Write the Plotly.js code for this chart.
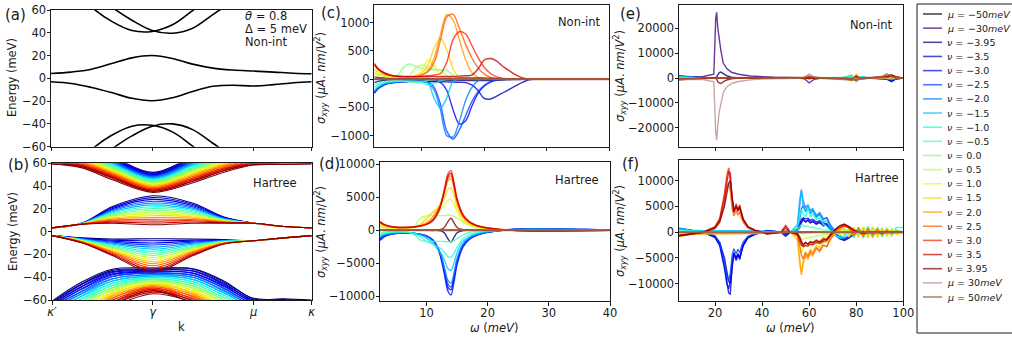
<!DOCTYPE html>
<html><head><meta charset="utf-8">
<script src="https://cdn.plot.ly/plotly-3.0.1.min.js"></script>
<style>html,body{margin:0;padding:0;background:#fff;overflow:hidden}#chart{width:1012px;height:339px}</style>
</head><body><div id="chart"></div>
<script>
// ---------------- DATA ----------------
const LEGEND_LABELS = ['<i>μ</i> = −50<i>meV</i>','<i>μ</i> = −30<i>meV</i>','<i>ν</i> = −3.95','<i>ν</i> = −3.5','<i>ν</i> = −3.0','<i>ν</i> = −2.5','<i>ν</i> = −2.0','<i>ν</i> = −1.5','<i>ν</i> = −1.0','<i>ν</i> = −0.5','<i>ν</i> = 0.0','<i>ν</i> = 0.5','<i>ν</i> = 1.0','<i>ν</i> = 1.5','<i>ν</i> = 2.0','<i>ν</i> = 2.5','<i>ν</i> = 3.0','<i>ν</i> = 3.5','<i>ν</i> = 3.95','<i>μ</i> = 30<i>meV</i>','<i>μ</i> = 50<i>meV</i>'];

const K_TICKS = [0, 1, 2, 2.577];
const K_TICK_LABELS = ['<i>κ′</i>', '<i>γ</i>', '<i>μ</i>', '<i>κ</i>'];

// (a) non-interacting bands
const K_A = [0,0.2,0.4,0.6,0.8,1.0,1.2,1.4,1.6,1.8,2.0,2.2,2.4,2.577];
const A_C1 = [4.2,5.5,8,13,18,20,17.5,12.5,9,7.3,6.4,5.5,4.5,4];
const A_V1 = [-3,-4.5,-8,-12.5,-17.5,-19.6,-17,-11.5,-7,-6,-6.7,-5.5,-3.8,-3];
const A_C2A = [95,80,62.5,50,42,41.2,47,59.5,72,84,95,100,102,104];
const A_C2B = [110,95,75,62.5,51,42,39.6,44,56,68,80,88,92,94];
const A_V2A = [-95,-80,-62.5,-50,-42,-41.2,-47,-59.5,-72,-84,-95,-100,-102,-104];
const A_V2B = [-110,-95,-75,-62,-50.5,-42,-40,-45,-57,-69,-80,-88,-92,-94];

// (b) Hartree bands, one row per filling (nu = -3.95 ... 3.95)
const K_B = [0,0.3,0.6,1.0,1.4,1.7,2.0,2.3,2.577];
const B_C1 = [
[3.3,7.5,22,31.5,25,13,7.4,4.5,3.3],[3.3,7.4,21.1,29.9,23.9,12.7,7.4,4.5,3.3],[3.3,7.4,20.2,28.3,22.8,12.3,7.4,4.5,3.3],
[3.3,7.3,19.3,26.7,21.7,12,7.4,4.5,3.3],[3.3,7.3,18.4,25.1,20.6,11.6,7.4,4.5,3.3],[3.3,7.2,17.4,23.5,19.5,11.3,7.4,4.5,3.3],
[3.3,7.1,16.5,21.9,18.4,10.9,7.4,4.5,3.3],[3.3,7.1,15.6,20.3,17.3,10.6,7.4,4.5,3.3],[3.3,7,14.7,18.8,16.2,10.2,7.4,4.5,3.3],
[3.3,6.9,13.8,17.2,15.1,9.9,7.4,4.5,3.3],[3.3,6.9,12.9,15.6,14,9.5,7.4,4.5,3.3],[3.3,6.8,12,14,12.9,9.2,7.4,4.5,3.3],
[3.3,6.8,11.1,12.4,11.8,8.8,7.4,4.5,3.3],[3.3,6.7,10.1,10.8,10.7,8.5,7.4,4.5,3.3],[3.3,6.6,9.2,9.2,9.6,8.1,7.4,4.5,3.3],
[3.3,6.6,8.3,7.6,8.5,7.8,7.4,4.5,3.3],[3.3,6.5,7.4,6,7.4,7.4,7.4,4.5,3.3]];
const B_V1 = [
[-3.5,-5.5,-6.5,-6.2,-6.5,-7,-8,-5.5,-3.5],[-3.5,-5.8,-7.4,-8,-7.4,-7.3,-8,-5.5,-3.5],[-3.5,-6.1,-8.3,-9.9,-8.3,-7.5,-8,-5.5,-3.5],
[-3.5,-6.3,-9.2,-11.7,-9.2,-7.8,-8,-5.5,-3.5],[-3.5,-6.6,-10.1,-13.5,-10.1,-8,-8,-5.5,-3.5],[-3.5,-6.9,-11,-15.3,-11,-8.3,-8,-5.5,-3.5],
[-3.5,-7.2,-11.9,-17.2,-11.9,-8.5,-8,-5.5,-3.5],[-3.5,-7.5,-12.8,-19,-12.8,-8.8,-8,-5.5,-3.5],[-3.5,-7.8,-13.8,-20.8,-13.8,-9,-8,-5.5,-3.5],
[-3.5,-8,-14.7,-22.6,-14.7,-9.3,-8,-5.5,-3.5],[-3.5,-8.3,-15.6,-24.5,-15.6,-9.5,-8,-5.5,-3.5],[-3.5,-8.6,-16.5,-26.3,-16.5,-9.8,-8,-5.5,-3.5],
[-3.5,-8.9,-17.4,-28.1,-17.4,-10,-8,-5.5,-3.5],[-3.5,-9.2,-18.3,-29.9,-18.3,-10.3,-8,-5.5,-3.5],[-3.5,-9.4,-19.2,-31.8,-19.2,-10.5,-8,-5.5,-3.5],
[-3.5,-9.7,-20.1,-33.6,-20.1,-10.8,-8,-5.5,-3.5],[-3.5,-10,-21,-35.4,-21,-11,-8,-5.5,-3.5]];
const B_C2A = [
[80,73,64.5,51.2,64.5,72,79,80,81],[78.7,71.9,63.3,50.2,63.2,70.8,77.7,78.7,79.7],[77.4,70.9,62.1,49.1,61.8,69.5,76.4,77.4,78.3],
[76.2,69.8,60.9,48.1,60.5,68.3,75.2,76.1,77],[74.9,68.8,59.8,47,59.1,67,73.9,74.8,75.6],[73.6,67.7,58.6,46,57.8,65.8,72.6,73.4,74.3],
[72.3,66.6,57.4,44.9,56.4,64.5,71.3,72.1,72.9],[71,65.6,56.2,43.9,55.1,63.3,70,70.8,71.6],[69.8,64.5,55,42.9,53.8,62,68.8,69.5,70.3],
[68.5,63.4,53.8,41.8,52.4,60.8,67.5,68.2,68.9],[67.2,62.4,52.6,40.8,51.1,59.5,66.2,66.9,67.6],[65.9,61.3,51.4,39.7,49.7,58.3,64.9,65.6,66.2],
[64.6,60.3,50.3,38.7,48.4,57,63.6,64.3,64.9],[63.3,59.2,49.1,37.6,47,55.8,62.3,62.9,63.5],[62.1,58.1,47.9,36.6,45.7,54.5,61.1,61.6,62.2],
[60.8,57.1,46.7,35.5,44.3,53.3,59.8,60.3,60.8],[59.5,56,45.5,34.5,43,52,58.5,59,59.5]];
const B_C2B = [
[81,74,65.5,52,65.5,73,80,81,82],[79.7,72.9,64.4,51,64.2,71.8,78.7,79.6,80.6],[78.3,71.9,63.3,49.9,62.9,70.6,77.4,78.3,79.2],
[77,70.8,62.1,48.9,61.6,69.3,76,76.9,77.8],[75.6,69.8,61,47.9,60.3,68.1,74.7,75.6,76.4],[74.3,68.7,59.9,46.8,58.9,66.9,73.4,74.2,75],
[72.9,67.6,58.8,45.8,57.6,65.7,72.1,72.8,73.6],[71.6,66.6,57.6,44.8,56.3,64.5,70.7,71.5,72.2],[70.3,65.5,56.5,43.8,55,63.3,69.4,70.1,70.9],
[68.9,64.4,55.4,42.7,53.7,62,68.1,68.7,69.5],[67.6,63.4,54.3,41.7,52.4,60.8,66.8,67.4,68.1],[66.2,62.3,53.1,40.7,51.1,59.6,65.4,66,66.7],
[64.9,61.3,52,39.6,49.8,58.4,64.1,64.7,65.3],[63.5,60.2,50.9,38.6,48.4,57.2,62.8,63.3,63.9],[62.2,59.1,49.8,37.6,47.1,55.9,61.5,61.9,62.5],
[60.8,58.1,48.6,36.5,45.8,54.7,60.1,60.6,61.1],[59.5,57,47.5,35.5,44.5,53.5,58.8,59.2,59.7]];
const B_V2A = [
[-61,-44,-33,-32,-33,-44,-58.5,-59,-60],[-62.5,-46.1,-35.1,-33.4,-34.8,-45.9,-60,-60.6,-61.6],[-64,-48.3,-37.1,-34.8,-36.6,-47.9,-61.4,-62.1,-63.1],
[-65.5,-50.4,-39.2,-36.2,-38.4,-49.8,-62.9,-63.7,-64.7],[-67,-52.5,-41.3,-37.6,-40.3,-51.8,-64.4,-65.3,-66.3],[-68.5,-54.6,-43.3,-39,-42.1,-53.7,-65.8,-66.8,-67.8],
[-70,-56.8,-45.4,-40.4,-43.9,-55.6,-67.3,-68.4,-69.4],[-71.5,-58.9,-47.4,-41.8,-45.7,-57.6,-68.8,-69.9,-70.9],[-73,-61,-49.5,-43.3,-47.5,-59.5,-70.3,-71.5,-72.5],
[-74.5,-63.1,-51.6,-44.7,-49.3,-61.4,-71.7,-73.1,-74.1],[-76,-65.3,-53.6,-46.1,-51.1,-63.4,-73.2,-74.6,-75.6],[-77.5,-67.4,-55.7,-47.5,-52.9,-65.3,-74.7,-76.2,-77.2],
[-79,-69.5,-57.8,-48.9,-54.8,-67.3,-76.1,-77.8,-78.8],[-80.5,-71.6,-59.8,-50.3,-56.6,-69.2,-77.6,-79.3,-80.3],[-82,-73.8,-61.9,-51.7,-58.4,-71.1,-79.1,-80.9,-81.9],
[-83.5,-75.9,-63.9,-53.1,-60.2,-73.1,-80.5,-82.4,-83.4],[-85,-78,-66,-54.5,-62,-75,-82,-84,-85]];
const B_V2B = [
[-62,-45.5,-34,-33,-32.5,-43,-59,-59.5,-60.5],[-63.4,-47.7,-35.9,-34.2,-34.4,-45.1,-60.4,-61,-62],[-64.9,-49.8,-37.8,-35.4,-36.3,-47.1,-61.9,-62.6,-63.6],
[-66.3,-52,-39.6,-36.6,-38.2,-49.2,-63.3,-64.1,-65.1],[-67.8,-54.1,-41.5,-37.8,-40.1,-51.3,-64.8,-65.6,-66.6],[-69.2,-56.3,-43.4,-38.9,-42,-53.3,-66.2,-67.2,-68.2],
[-70.6,-58.4,-45.3,-40.1,-43.9,-55.4,-67.6,-68.7,-69.7],[-72.1,-60.6,-47.1,-41.3,-45.8,-57.4,-69.1,-70.2,-71.2],[-73.5,-62.8,-49,-42.5,-47.8,-59.5,-70.5,-71.8,-72.8],
[-74.9,-64.9,-50.9,-43.7,-49.7,-61.6,-71.9,-73.3,-74.3],[-76.4,-67.1,-52.8,-44.9,-51.6,-63.6,-73.4,-74.8,-75.8],[-77.8,-69.2,-54.6,-46.1,-53.5,-65.7,-74.8,-76.3,-77.3],
[-79.3,-71.4,-56.5,-47.3,-55.4,-67.8,-76.3,-77.9,-78.9],[-80.7,-73.5,-58.4,-48.4,-57.3,-69.8,-77.7,-79.4,-80.4],[-82.1,-75.7,-60.3,-49.6,-59.2,-71.9,-79.1,-80.9,-81.9],
[-83.6,-77.8,-62.1,-50.8,-61.1,-73.9,-80.6,-82.5,-83.5],[-85,-80,-64,-52,-63,-76,-82,-84,-85]];

// (c) Non-int sigma_xyy vs omega
const W_C = [2.4,3,4,5,6,7,8,9,10,11,12,13,14,15,16,17,18,19,20,21,22,23,24,25,26,27,28,30,35,40];
const SIGMA_C = [
[0,0,0,0,0,0,0,0,0,0,0,0,0,0,0,0,0,0,0,0,0,0,0,0,0,0,0,0,0,0],
[0,0,0,0,0,0,0,0,0,0,0,0,0,0,0,0,0,0,0,0,0,0,0,0,0,0,0,0,0,0],
[-60,-40,-20,-10,-5,-5,-5,-5,-8,-10,-12,-15,-20,-22,-25,-25,-25,-25,-25,-22,-18,-14,-10,-6,-3,-1,0,0,0,0],
[-250,-170,-100,-70,-55,-45,-40,-38,-38,-40,-42,-45,-48,-52,-56,-60,-100,-200,-340,-350,-300,-240,-180,-120,-60,-15,0,0,0,0],
[-240,-160,-95,-65,-50,-42,-38,-36,-36,-38,-40,-60,-200,-540,-790,-740,-480,-250,-120,-50,-15,0,0,0,0,0,0,0,0,0],
[-230,-155,-90,-62,-48,-40,-38,-38,-40,-50,-150,-450,-920,-1060,-900,-650,-400,-220,-110,-40,-10,0,0,0,0,0,0,0,0,0],
[-220,-150,-88,-60,-46,-40,-38,-38,-42,-70,-200,-550,-1000,-1020,-750,-380,-150,-30,0,0,0,0,0,0,0,0,0,0,0,0],
[-200,-140,-80,-55,-42,-38,-36,-36,-40,-60,-350,-510,-330,-40,0,0,0,0,0,0,0,0,0,0,0,0,0,0,0,0],
[-150,-100,-60,-45,-38,-35,-35,-40,-60,-100,-80,-30,-5,0,0,0,0,0,0,0,0,0,0,0,0,0,0,0,0,0],
[-100,-70,-45,-35,-32,-35,-45,-60,-50,-20,-5,0,0,0,0,0,0,0,0,0,0,0,0,0,0,0,0,0,0,0],
[100,75,55,45,50,200,270,230,195,170,165,165,155,70,0,0,0,0,0,0,0,0,0,0,0,0,0,0,0,0],
[110,80,55,45,42,45,60,200,250,200,175,160,60,0,0,0,0,0,0,0,0,0,0,0,0,0,0,0,0,0],
[130,95,62,50,45,45,50,60,150,340,240,70,15,0,0,0,0,0,0,0,0,0,0,0,0,0,0,0,0,0],
[180,125,75,55,45,45,48,60,110,250,560,720,520,180,30,0,0,0,0,0,0,0,0,0,0,0,0,0,0,0],
[250,170,100,65,50,45,45,50,80,160,380,800,1140,1050,700,350,120,30,0,0,0,0,0,0,0,0,0,0,0,0],
[270,185,110,70,52,46,45,48,70,130,300,700,1100,1150,900,620,380,200,90,30,5,0,0,0,0,0,0,0,0,0],
[280,190,115,72,55,48,46,46,50,60,75,100,300,700,840,800,600,380,210,100,40,10,0,0,0,0,0,0,0,0],
[260,175,105,68,52,46,44,43,43,44,45,46,48,50,55,60,70,180,340,365,320,224,150,80,25,0,0,0,0,0],
[40,30,20,12,8,6,5,5,6,8,10,12,15,18,20,20,20,20,20,18,15,12,8,5,2,0,0,0,0,0],
[0,0,0,0,0,0,0,0,0,0,0,0,0,0,0,0,0,0,0,0,0,0,0,0,0,0,0,0,0,0],
[0,0,0,0,0,0,0,0,0,0,0,0,0,0,0,0,0,0,0,0,0,0,0,0,0,0,0,0,0,0]];

// (d) Hartree
const W_D = [2.4,3,4,5,6,7,8,9,10,11,12,12.5,13,13.5,14,14.5,15,16,17,18,19,20,22,24,26,28,30,33,36,40];
const SIGMA_D = [
[0,0,0,0,0,0,0,0,0,0,0,0,0,0,0,0,0,0,0,0,0,0,0,0,0,0,0,0,0,0],
[0,0,0,0,0,0,0,0,0,0,0,0,0,0,0,0,0,0,0,0,0,0,0,0,0,0,0,0,0,0],
[-30,-20,-15,-10,-10,-10,-15,-20,-30,-40,-50,-150,-500,-1300,-1800,-1100,-400,-60,-30,-20,-10,-5,0,0,0,0,0,0,0,0],
[-1400,-950,-630,-480,-420,-430,-490,-630,-880,-1450,-3000,-4500,-6600,-8600,-9000,-7200,-4800,-2300,-1300,-800,-500,-320,-50,110,190,210,200,150,90,40],
[-1550,-1050,-680,-500,-440,-440,-500,-640,-900,-1500,-3100,-4800,-7000,-9200,-9800,-7800,-5200,-2500,-1400,-850,-540,-340,-50,120,200,220,210,160,100,40],
[-1250,-870,-580,-450,-410,-420,-480,-620,-880,-1450,-2900,-4300,-6300,-8100,-8600,-6900,-4600,-2200,-1250,-760,-480,-300,-40,110,180,200,190,150,90,40],
[-1150,-800,-540,-420,-390,-400,-480,-650,-950,-1600,-3000,-4200,-5900,-7600,-8000,-6500,-4300,-2100,-1200,-720,-450,-280,-40,100,160,180,170,130,80,30],
[-900,-650,-450,-360,-340,-370,-450,-700,-1200,-2000,-3000,-3700,-4700,-5800,-6100,-5000,-3400,-1700,-1000,-600,-380,-220,-30,80,120,130,120,90,50,20],
[-700,-500,-360,-300,-290,-330,-500,-1000,-1700,-2100,-2600,-2900,-3400,-4000,-4100,-3500,-2600,-1300,-700,-420,-250,-150,-20,50,80,80,70,50,30,10],
[-450,-330,-240,-210,-220,-300,-700,-1500,-1700,-1700,-1700,-1700,-1720,-1750,-1750,-1600,-1300,-700,-350,-180,-100,-50,0,30,40,40,30,20,10,0],
[100,70,50,40,30,30,30,30,20,10,0,0,0,0,0,0,0,0,0,0,0,0,0,0,0,0,0,0,0,0],
[500,360,260,220,220,260,600,1800,2150,2200,2200,2200,2220,2250,2250,2100,1800,1200,700,400,250,150,40,0,-20,-30,-30,-20,-10,0],
[700,500,360,300,290,320,420,900,2000,2600,3000,3300,3900,4500,4650,3900,2800,1400,800,500,320,200,60,-10,-40,-60,-60,-50,-30,-10],
[900,650,450,360,340,360,450,800,1600,2700,3500,4000,5000,6100,6400,5200,3500,1700,1000,600,400,260,80,-10,-60,-90,-90,-70,-50,-20],
[1150,800,540,420,390,400,480,700,1100,2000,3400,4400,5900,7400,7800,6300,4200,2000,1150,700,460,300,100,-20,-90,-120,-120,-100,-60,-30],
[1200,840,560,440,400,410,480,640,900,1600,3200,4400,6100,7800,8200,6600,4400,2100,1200,740,480,320,100,-20,-90,-130,-130,-100,-70,-30],
[1300,900,600,460,420,430,500,650,900,1500,3000,4500,6500,8500,9000,7200,4800,2300,1300,800,520,350,120,-20,-100,-150,-150,-120,-80,-30],
[1250,870,580,450,410,420,480,620,860,1400,2800,4300,6200,8100,8600,6900,4600,2200,1250,770,500,340,110,-20,-100,-140,-140,-110,-70,-30],
[30,20,15,10,10,10,15,20,30,40,50,150,500,1300,1800,1100,400,60,30,20,10,5,0,0,0,0,0,0,0,0],
[0,0,0,0,0,0,0,0,0,0,0,0,0,0,0,0,0,0,0,0,0,0,0,0,0,0,0,0,0,0],
[0,0,0,0,0,0,0,0,0,0,0,0,0,0,0,0,0,0,0,0,0,0,0,0,0,0,0,0,0,0]];

// (e) Non-int, wide range
const W_E = [4.7,10,15,18,19.5,20.3,20.7,21.2,21.8,22.5,23.5,25,27,30,35,40,45,50,55,58,60,62,65,70,75,78,80,82,85,88,91,93,95,97,100];
const SIGMA_E = [
[200,100,50,50,50,50,50,50,50,50,50,50,50,30,20,10,0,0,0,0,0,0,0,0,0,0,0,0,0,0,0,0,0,0,0],
[800,500,600,1000,1500,24000,26400,20000,14500,11000,6000,3800,2300,1500,800,450,300,200,100,-300,-2000,-600,0,0,0,0,0,0,0,0,0,0,0,0,0],
[700,300,150,100,50,100,500,1500,2200,2400,1800,900,300,50,0,0,0,0,0,100,-300,100,0,0,0,200,-300,0,0,0,-200,-500,-1500,-300,0],
[600,200,50,0,0,0,0,0,0,0,0,0,0,0,0,0,0,0,0,0,-200,0,0,0,0,300,-500,100,0,0,-200,-400,-1200,-300,0],
[550,200,50,0,0,0,0,0,0,0,0,0,0,0,0,0,0,0,0,0,-200,0,0,0,0,500,-700,200,0,0,-200,-300,-1000,-300,0],
[500,150,50,0,0,0,0,0,0,0,0,0,0,0,0,0,0,0,0,0,-100,0,0,0,100,700,-900,300,0,0,-100,-300,-800,-200,0],
[450,150,30,0,0,0,0,0,0,0,0,0,0,0,0,0,0,0,0,0,-100,0,0,0,100,900,-1200,400,0,0,-100,-200,-600,-200,0],
[400,100,30,0,0,0,0,0,0,0,0,0,0,0,0,0,0,0,0,0,0,0,0,0,200,1200,-1500,500,0,0,0,-200,-500,-100,0],
[300,100,20,0,0,0,0,0,0,0,0,0,0,0,0,0,0,0,0,0,0,0,0,0,200,1000,-1300,400,0,0,0,-100,-300,-100,0],
[200,50,0,0,0,0,0,0,0,0,0,0,0,0,0,0,0,0,0,0,0,0,0,0,100,600,-800,300,0,0,0,0,-200,0,0],
[0,0,0,0,0,0,0,0,0,0,0,0,0,0,0,0,0,0,0,0,0,0,0,0,0,200,-300,100,0,0,0,0,0,0,0],
[-200,-50,0,0,0,0,0,0,0,0,0,0,0,0,0,0,0,0,0,0,0,0,0,0,-100,-600,800,-300,0,0,0,0,200,0,0],
[-300,-100,-20,0,0,0,0,0,0,0,0,0,0,0,0,0,0,0,0,0,0,0,0,0,-200,-1000,1300,-400,0,0,0,100,300,100,0],
[-400,-100,-30,0,0,0,0,0,0,0,0,0,0,0,0,0,0,0,0,0,0,0,0,0,-200,-1200,1500,-500,0,0,0,200,500,100,0],
[-450,-150,-30,0,0,0,0,0,0,0,0,0,0,0,0,0,0,0,0,0,100,0,0,0,-100,-900,1200,-400,0,0,100,200,600,200,0],
[-500,-150,-50,0,0,0,0,0,0,0,0,0,0,0,0,0,0,0,0,0,100,0,0,0,-100,-700,900,-300,0,0,100,300,800,200,0],
[-550,-200,-50,0,0,0,0,0,0,0,0,0,0,0,0,0,0,0,0,0,200,0,0,0,0,-500,700,-200,0,0,200,300,1000,300,0],
[-600,-200,-50,0,0,0,0,0,0,0,0,0,0,0,0,0,0,0,0,0,200,0,0,0,0,-300,500,-100,0,0,200,400,1200,300,0],
[-700,-300,-150,-100,-50,-100,-500,-1500,-2000,-2200,-1600,-800,-300,-50,0,0,0,0,0,-100,300,-100,0,0,0,-200,300,-100,0,0,300,500,1200,400,0],
[-800,-500,-600,-1000,-1500,-22000,-25000,-19000,-13500,-10500,-5800,-3600,-2200,-1400,-750,-420,-280,-180,-100,300,1600,500,0,0,0,0,0,0,0,0,0,0,0,0,0],
[-300,-100,-50,-50,-50,-50,-50,-50,-50,-50,-50,-50,-50,-30,-20,-10,0,0,0,200,700,200,0,-200,-400,-600,-800,-200,0,200,500,1500,600,0,0]];

// (f) Hartree, wide range
const W_F = [4.7,10,15,20,22,24,25,25.8,26.5,27.3,28,29,29.7,30.5,31.2,32,34,37,40,42,45,48,50,52,55,56,56.7,57.5,58.5,59.5,60.5,61.5,63,64.5,66,67.5,69,71,73,75,77,79,81,83,85,87,89,91,93,95,97,100];
const SIGMA_F = [
[0,0,0,0,0,0,0,0,0,0,0,0,0,0,0,0,0,0,0,0,0,0,0,0,0,0,0,0,0,0,0,0,0,0,0,0,0,0,0,0,0,0,0,0,0,0,0,0,0,0,0,0],
[0,0,0,0,0,0,0,0,0,0,0,0,0,0,0,0,0,0,0,0,0,0,0,0,0,0,0,0,0,0,0,0,0,0,0,0,0,0,0,0,0,0,0,0,0,0,0,0,0,0,0,0],
[600,250,0,-800,-2000,-5000,-8000,-9500,-10000,-6000,-4000,-5000,-4200,-4800,-3500,-2400,-1000,-350,0,250,100,0,-800,0,300,900,1800,2400,2000,2300,1900,2000,1700,1900,1500,1300,500,-500,-1200,-1500,-1100,-400,0,100,0,0,0,0,0,0,0,0],
[750,320,0,-1000,-2400,-6500,-10000,-11800,-12000,-6500,-4200,-5500,-4300,-5300,-3800,-2600,-1100,-400,0,350,200,0,-500,0,400,1500,2500,2800,2600,2700,2300,2500,2000,2200,1800,1600,600,-500,-1300,-1600,-1000,-300,0,200,100,0,100,0,0,0,0,0],
[700,300,0,-1000,-2600,-7000,-10000,-11000,-9500,-5800,-4000,-5300,-4200,-5100,-3700,-2500,-1000,-350,0,300,150,0,-300,0,300,1200,2200,2600,2000,2400,1800,2200,1500,1900,1200,1500,500,-300,-900,-1300,-800,-300,0,100,0,-100,0,100,0,-100,0,0],
[700,300,100,-700,-2000,-5500,-8500,-9500,-8000,-4500,-3200,-4200,-3300,-4000,-2800,-1900,-800,-250,0,250,150,0,-100,0,500,2500,4500,5200,4000,4800,3600,4200,3000,3500,2500,2800,1200,-200,-900,-1200,-900,-600,300,-500,200,-300,100,-200,0,-100,0,0],
[800,400,300,300,300,350,350,350,350,350,350,350,350,350,300,300,300,250,200,200,150,100,0,0,800,5000,8300,6000,4800,5300,4200,4600,3300,3800,2600,2800,1500,300,-600,-1200,-800,800,-800,900,-800,800,-700,600,-500,400,-300,0],
[700,350,300,300,300,300,300,300,300,300,300,300,300,300,300,300,250,200,150,150,100,50,0,0,1500,6500,8000,5000,4000,5100,3500,4400,2800,3400,2000,2200,800,-500,-1200,-1000,500,-900,900,-1000,1000,-1000,900,-800,700,-600,400,0],
[500,250,200,200,200,200,200,200,200,200,200,200,200,200,200,200,150,100,100,100,50,0,0,0,800,3000,4500,3500,3000,4800,3000,3500,2500,2800,1500,1200,300,-600,-1000,-600,900,-1000,1000,-1100,1100,-1000,900,-900,800,-700,900,900],
[300,150,100,100,100,100,100,100,100,100,100,100,100,100,100,100,80,50,50,50,0,0,0,0,300,1000,1500,1300,1100,1200,900,1000,700,700,400,400,0,400,-400,600,-600,700,-700,800,-800,800,-800,700,-700,600,-400,0],
[0,0,0,0,0,0,0,0,0,0,0,0,0,0,0,0,0,0,0,0,0,0,0,0,0,-200,-300,-300,-200,-200,-100,-100,0,0,0,0,200,-200,300,-300,300,-400,400,-400,400,-400,400,-300,300,-300,200,0],
[-300,-150,-100,-100,-100,-100,-100,-100,-100,-100,-100,-100,-100,-100,-100,-100,-80,-50,-50,-50,0,0,0,0,-300,-1000,-1500,-1300,-1100,-1200,-900,-1000,-700,-700,-400,-400,0,-400,400,-600,600,-700,700,-800,800,-800,800,-700,700,-600,400,0],
[-500,-250,-200,-200,-200,-200,-200,-200,-200,-200,-200,-200,-200,-200,-200,-200,-150,-100,-100,-100,-50,0,0,0,-800,-3000,-4000,-3000,-2500,-2800,-2000,-2200,-1500,-1700,-900,-1000,-300,200,-600,800,-900,1000,-1000,1100,-1100,1000,-900,900,-800,700,-500,0],
[-700,-350,-300,-300,-300,-300,-300,-300,-300,-300,-300,-300,-300,-300,-300,-300,-250,-200,-150,-150,-100,-50,0,0,-1500,-6500,-7800,-5000,-3800,-4500,-3300,-3800,-2500,-3000,-1800,-2000,-900,-200,300,700,-500,900,-900,1000,-1000,1000,-900,800,-700,600,-400,0],
[-800,-400,-300,-300,-300,-350,-350,-350,-350,-350,-350,-350,-350,-350,-300,-300,-300,-250,-200,-200,-150,-100,0,0,-800,-5000,-8300,-6000,-4500,-5300,-4000,-4600,-3200,-3800,-2500,-2800,-1500,-300,600,1200,800,-800,800,-900,800,-800,700,-600,500,-400,300,0],
[-700,-300,-100,700,2000,5500,8500,9500,8000,4500,3200,4200,3300,4000,2800,1900,800,250,0,-250,-150,0,100,0,-500,-2500,-4500,-5200,-4000,-4800,-3600,-4200,-3000,-3500,-2500,-2800,-1200,200,900,1200,900,-600,700,-700,600,-500,500,-400,300,-200,100,0],
[-700,-300,0,1100,2700,7500,11000,12500,9500,5500,3800,5200,4000,5000,3600,2400,1000,350,0,-300,-150,0,300,0,-300,-1200,-2200,-2600,-2000,-2400,-1800,-2200,-1500,-1900,-1200,-1500,-500,300,900,1300,800,300,0,-100,0,100,0,-100,0,100,0,0],
[-750,-320,0,1000,2400,6500,10000,11800,11500,6500,4200,5500,4300,5300,3800,2600,1100,400,0,-350,-200,0,1300,0,-400,-1500,-2500,-2800,-2600,-2700,-2300,-2500,-2000,-2200,-1800,-1600,-600,500,1300,1600,1000,300,0,-200,-100,0,-100,0,0,0,0,0],
[-600,-250,0,800,2000,5000,8000,9500,10000,6000,4000,5000,4200,4800,3500,2400,1000,350,0,-250,-100,0,800,0,-300,-900,-1800,-2400,-2000,-2300,-1900,-2000,-1700,-1900,-1500,-1300,-500,500,1200,1500,1100,400,0,-100,0,0,0,0,0,0,0,0],
[0,0,0,0,0,0,0,0,0,0,0,0,0,0,0,0,0,0,0,0,0,0,0,0,0,0,0,0,0,0,0,0,0,0,0,0,0,0,0,0,0,0,0,0,0,0,0,0,0,0,0,0],
[0,0,0,0,0,0,0,0,0,0,0,0,0,0,0,0,0,0,0,0,0,0,0,0,0,0,0,0,0,0,0,0,0,0,0,0,0,0,0,0,0,0,0,0,0,0,0,0,0,0,0,0]];

const Y_TICKS_C = [-1000,-500,0,500,1000];
const Y_TICKTEXT_C = ['−1000','−500','0','500','1000'];
const Y_TICKS_D = [-10000,-5000,0,5000,10000];
const Y_TICKTEXT_D = ['−10000','−5000','0','5000','10000'];
const Y_TICKS_E = [-20000,-10000,0,10000,20000];
const Y_TICKTEXT_E = ['−20000','−10000','0','10000','20000'];
const Y_TICKS_F = [-10000,-5000,0,5000,10000];
const Y_TICKTEXT_F = ['−10000','−5000','0','5000','10000'];
const X_TICKS_CD = [10,20,30,40];
const X_TICKS_EF = [20,40,60,80,100];
const E_TICKS = [-60,-40,-20,0,20,40,60];

// ---------------- STYLE ----------------
const NU_COLORS = ['#000080','#0000c8','#0000ff','#0040ff','#0080ff','#00c0ff','#14ffe2','#48ffb0','#7cff7a','#b0ff48','#e2ff14','#ffd200','#ff9800','#ff5b00','#ff2100','#c80000','#800000'];
const SERIES_COLORS = ['#000000','#4b0082'].concat(NU_COLORS, ['#bc8f8f','#a0522d']);
const W = 1012, H = 339;
const FONT = 'DejaVu Sans';
const INK = '#1a1a1a';

const traces = [];
[A_C1, A_V1, A_C2A, A_C2B, A_V2A, A_V2B].forEach(b => traces.push({
  x: K_A, y: b, xaxis: 'x', yaxis: 'y', mode: 'lines', type: 'scatter',
  line: {color: '#000', width: 1.6, shape: 'spline', smoothing: 1}, hoverinfo: 'skip', showlegend: false}));
[B_V2A, B_V2B, B_V1, B_C1, B_C2A, B_C2B].forEach(band => band.forEach((row, i) => traces.push({
  x: K_B, y: row, xaxis: 'x2', yaxis: 'y2', mode: 'lines', type: 'scatter',
  line: {color: NU_COLORS[i], width: 1.1, shape: 'spline', smoothing: 1}, hoverinfo: 'skip', showlegend: false})));
[[W_C, SIGMA_C, 'x3', 'y3', 'spline'], [W_D, SIGMA_D, 'x4', 'y4', 'spline'],
 [W_E, SIGMA_E, 'x5', 'y5', 'linear'], [W_F, SIGMA_F, 'x6', 'y6', 'linear']].forEach(([wx, sig, xa, ya, shp]) => {
  sig.forEach((row, s) => traces.push({
    x: wx, y: row, xaxis: xa, yaxis: ya, mode: 'lines', type: 'scatter', opacity: 0.8,
    name: LEGEND_LABELS[s],
    line: {color: SERIES_COLORS[s], width: (s === 20 ? 2 : 1.4), shape: shp, smoothing: 0.9}, hoverinfo: 'skip', showlegend: false}));
});

const base = {showline: true, mirror: true, linecolor: INK, linewidth: 1, ticks: 'outside', ticklen: 3.5, tickwidth: 1,
  tickcolor: INK, showgrid: false, zeroline: false, ticklabelstandoff: -2,
  tickfont: {family: FONT, size: 11.5, color: INK}, fixedrange: true};
const dx = (a, b) => [a / W, b / W];
const dy = (top, bot) => [1 - bot / H, 1 - top / H];

const layout = {
  width: W, height: H, margin: {l: 0, r: 0, t: 0, b: 0}, paper_bgcolor: '#fff', plot_bgcolor: '#fff',
  font: {family: FONT, color: INK}, showlegend: false,
  xaxis:  Object.assign({}, base, {domain: dx(51, 311.7), range: [0, 2.577], tickvals: K_TICKS, showticklabels: false, anchor: 'y'}),
  yaxis:  Object.assign({}, base, {domain: dy(10, 146.7), range: [-60, 60], tickvals: E_TICKS, anchor: 'x'}),
  xaxis2: Object.assign({}, base, {domain: dx(52, 311.7), range: [0, 2.577], tickvals: K_TICKS, ticktext: K_TICK_LABELS, anchor: 'y2'}),
  yaxis2: Object.assign({}, base, {domain: dy(163.3, 300), range: [-60, 60], tickvals: E_TICKS, anchor: 'x2'}),
  xaxis3: Object.assign({}, base, {domain: dx(374.3, 609.3), range: [2.4, 40], tickvals: X_TICKS_CD, showticklabels: false, anchor: 'y3'}),
  yaxis3: Object.assign({}, base, {domain: dy(5, 146.7), range: [-1195, 1313], tickvals: Y_TICKS_C, ticktext: Y_TICKTEXT_C, anchor: 'x3'}),
  xaxis4: Object.assign({}, base, {domain: dx(380, 610), range: [2.4, 40], tickvals: X_TICKS_CD, anchor: 'y4'}),
  yaxis4: Object.assign({}, base, {domain: dy(162.3, 301), range: [-10710, 10260], tickvals: Y_TICKS_D, ticktext: Y_TICKTEXT_D, anchor: 'x4'}),
  xaxis5: Object.assign({}, base, {domain: dx(679, 903.3), range: [4.7, 100], tickvals: X_TICKS_EF, showticklabels: false, anchor: 'y5'}),
  yaxis5: Object.assign({}, base, {domain: dy(5, 146.7), range: [-27650, 29380], tickvals: Y_TICKS_E, ticktext: Y_TICKTEXT_E, anchor: 'x5'}),
  xaxis6: Object.assign({}, base, {domain: dx(679, 903.3), range: [4.7, 100], tickvals: X_TICKS_EF, anchor: 'y6'}),
  yaxis6: Object.assign({}, base, {domain: dy(160, 301), range: [-13360, 14020], tickvals: Y_TICKS_F, ticktext: Y_TICKTEXT_F, anchor: 'x6'}),
  annotations: [], shapes: []
};

function note(text, px, py, opt) {
  layout.annotations.push(Object.assign({text: text, x: px / W, y: 1 - py / H, xref: 'paper', yref: 'paper', showarrow: false,
    xanchor: 'center', yanchor: 'middle', font: {family: FONT, size: 11.5, color: INK}}, opt || {}));
}
[['(a)', 15, 15], ['(b)', 18, 165], ['(c)', 331, 13], ['(d)', 329, 164], ['(e)', 630, 14], ['(f)', 630, 164]]
  .forEach(([t, x, y]) => note(t, x, y, {font: {family: FONT, size: 15, color: INK}}));
note('<i>θ</i> = 0.8', 243, 16.3, {xanchor: 'left'});
note('Δ = 5 meV', 243, 29, {xanchor: 'left'});
note('Non-int', 243, 41.5, {xanchor: 'left'});
note('Hartree', 275, 182.5);
note('Non-int', 579.5, 21.5);
note('Hartree', 577, 180);
note('Non-int', 871.7, 25);
note('Hartree', 877, 178);
const SIG = '<i>σ<sub>xyy</sub></i> (<i>μA</i>. <i>nm</i>/<i>V</i><sup>2</sup>)';
note('Energy (meV)', 12, 78, {textangle: -90});
note('Energy (meV)', 13, 232, {textangle: -90});
note(SIG, 321, 78, {textangle: -90});
note(SIG, 321, 232, {textangle: -90});
note(SIG, 620, 76, {textangle: -90});
note(SIG, 620, 231, {textangle: -90});
note('k', 181, 327);
note('<i>ω</i> (<i>meV</i>)', 494, 328);
note('<i>ω</i> (<i>meV</i>)', 790, 328);

layout.shapes.push({type: 'rect', xref: 'paper', yref: 'paper', x0: 917 / W, x1: 1030 / W, y0: 1 - 333 / H, y1: 1 - 4 / H,
  line: {color: INK, width: 1}, fillcolor: 'rgba(0,0,0,0)'});
LEGEND_LABELS.forEach((lab, j) => {
  const py = 14 + 14.15 * j;
  layout.shapes.push({type: 'line', xref: 'paper', yref: 'paper', x0: 923 / W, x1: 942 / W, y0: 1 - py / H, y1: 1 - py / H,
    line: {color: SERIES_COLORS[j], width: 1.6}, opacity: 0.7});
  note(lab, 945, py, {xanchor: 'left', font: {family: FONT, size: 9.5, color: INK}});
});

Plotly.newPlot('chart', traces, layout, {staticPlot: true, displayModeBar: false});
</script></body></html>
